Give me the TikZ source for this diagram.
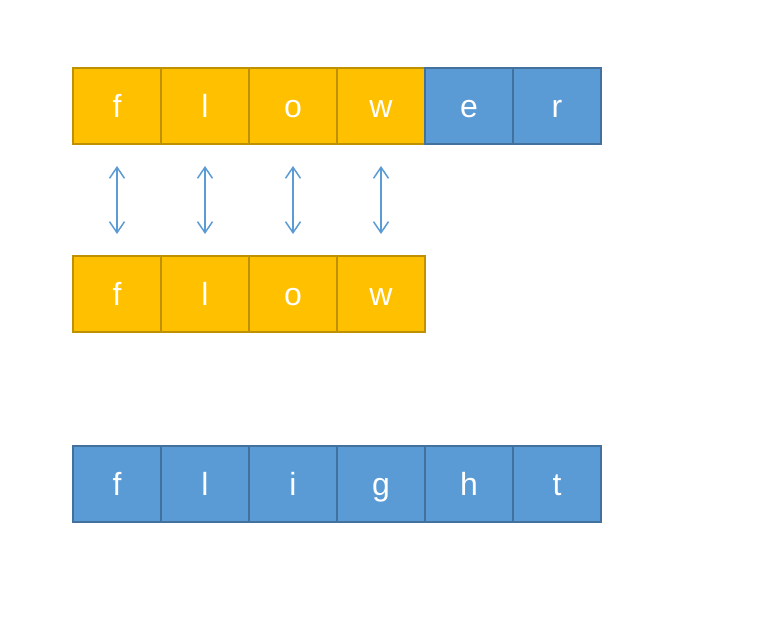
\documentclass[tikz,border=0pt]{standalone}
\usepackage{fontspec}
\setmainfont{Liberation Sans}
\usetikzlibrary{arrows.meta, positioning}
\definecolor{gold}{HTML}{FFC000}
\definecolor{golddark}{HTML}{BF9000}
\definecolor{sky}{HTML}{5B9BD5}
\definecolor{skydark}{HTML}{41719C}
\tikzset{
   cell/.style={
      minimum width=88pt, minimum height=76pt, inner sep=0pt, outer sep=0pt,
      line width=1.5pt, text=white, text height=23pt, text depth=0pt,
      font=\fontsize{32}{38}\selectfont
   },
   goldcell/.style={cell, fill=gold, draw=golddark},
   skycell/.style={cell, fill=sky, draw=skydark},
   match/.style={sky, line width=1.5pt, {Straight Barb[length=11pt,width=15pt]}-{Straight Barb[length=11pt,width=15pt]}}
}

\begin{document}
\begin{tikzpicture}[x=1pt, y=1pt]

   %%%%%%%%%%%%%%%%%%%%%%%%%%%%%%%%%%%%%%%%%%%%%%%%%%%%%%%%%%%%%%%%%%%%%%
   % Parameter
   %%%%%%%%%%%%%%%%%%%%%%%%%%%%%%%%%%%%%%%%%%%%%%%%%%%%%%%%%%%%%%%%%%%%%%
   \def\xstart{117}
   \def\dx{88}
   \def\ytop{510}
   \def\ymid{322}
   \def\ybot{132}

   \useasboundingbox (0,0) rectangle (782,616);

   %%%%%%%%%%%%%%%%%%%%%%%%%%%%%%%%%%%%%%%%%%%%%%%%%%%%%%%%%%%%%%%%%%%%%%
   % oben: flower
   %%%%%%%%%%%%%%%%%%%%%%%%%%%%%%%%%%%%%%%%%%%%%%%%%%%%%%%%%%%%%%%%%%%%%%
   \foreach \ch [count=\i] in {f,l,o,w}
      \node[goldcell] (top\i) at ({\xstart+\dx*(\i-1)},\ytop) {\ch};
   \node[skycell, right=0pt of top4] (top5) {e};
   \node[skycell, right=0pt of top5] (top6) {r};

   %%%%%%%%%%%%%%%%%%%%%%%%%%%%%%%%%%%%%%%%%%%%%%%%%%%%%%%%%%%%%%%%%%%%%%
   % Mitte: flow
   %%%%%%%%%%%%%%%%%%%%%%%%%%%%%%%%%%%%%%%%%%%%%%%%%%%%%%%%%%%%%%%%%%%%%%
   \foreach \ch [count=\i] in {f,l,o,w}
      \node[goldcell] (mid\i) at ({\xstart+\dx*(\i-1)},\ymid) {\ch};

   % Pfeile zwischen gleichen Buchstaben
   \foreach \i in {1,...,4}
      \draw[match, shorten <=22pt, shorten >=22pt] (top\i.south) -- (mid\i.north);

   %%%%%%%%%%%%%%%%%%%%%%%%%%%%%%%%%%%%%%%%%%%%%%%%%%%%%%%%%%%%%%%%%%%%%%
   % unten: flight
   %%%%%%%%%%%%%%%%%%%%%%%%%%%%%%%%%%%%%%%%%%%%%%%%%%%%%%%%%%%%%%%%%%%%%%
   \foreach \ch [count=\i] in {f,l,i,g,h,t}
      \node[skycell] (bot\i) at ({\xstart+\dx*(\i-1)},\ybot) {\ch};

\end{tikzpicture}
\end{document}
